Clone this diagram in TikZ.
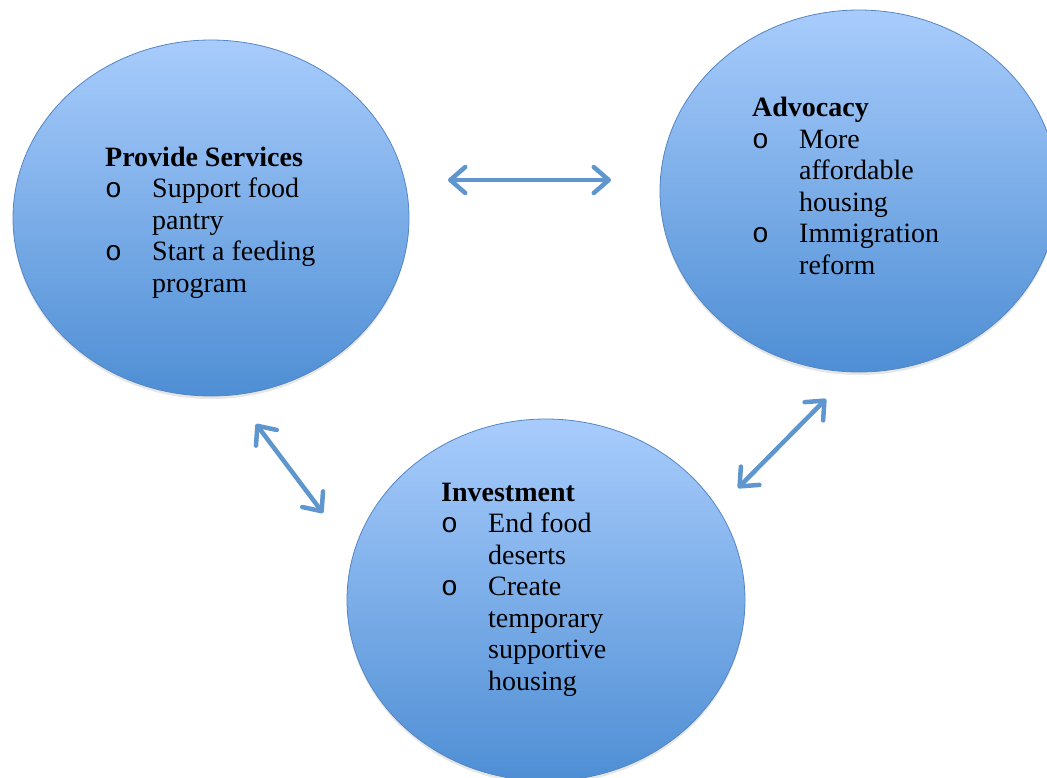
\documentclass[tikz,border=0pt]{standalone}
\usepackage{fontspec}
\setmainfont{Liberation Serif}
\newfontfamily\bulfont{Liberation Mono}
\usetikzlibrary{shapes.geometric,arrows.meta,shadows}

\definecolor{bubbletop}{RGB}{168,204,252}
\definecolor{bubblebot}{RGB}{78,142,212}
\definecolor{bubbleline}{RGB}{84,134,196}
\definecolor{linkblue}{RGB}{96,150,206}

\newcommand{\bul}{\makebox[47pt][l]{\bulfont o}}
\newcommand{\ind}{\hspace*{47pt}}

\begin{document}
\begin{tikzpicture}[x=1pt,y=-1pt,
  bubble/.style={ellipse,draw=bubbleline,line width=0.8pt,top color=bubbletop,bottom color=bubblebot,
    inner sep=0pt,drop shadow={shadow xshift=0pt,shadow yshift=-3pt,opacity=0.2}},
  label text/.style={font=\fontsize{28}{31.5}\selectfont,align=left,inner sep=0pt,anchor=base west},
  link/.style={line width=4.5pt,draw=linkblue,
    {Straight Barb[length=15pt,width=26pt,round]}-{Straight Barb[length=15pt,width=26pt,round]}}]

  \useasboundingbox (0,0) rectangle (1047,777);

  % the three circles
  \node[bubble,minimum width=396pt,minimum height=356pt] (serv) at (211,218) {};
  \node[bubble,minimum width=398pt,minimum height=362pt] (adv) at (859,191) {};
  \node[bubble,minimum width=398pt,minimum height=362pt] (inv) at (546,600) {};

  % texts, placed at the baseline of their last line
  \node[label text] (servtxt) at (105,292) {\textbf{Provide Services}\\
    \bul Support food\\ \ind pantry\\
    \bul Start a feeding\\ \ind program};
  \node[label text] (advtxt) at (752,274) {\textbf{Advocacy}\\
    \bul More\\ \ind affordable\\ \ind housing\\
    \bul Immigration\\ \ind reform};
  \node[label text] (invtxt) at (441,690) {\textbf{Investment}\\
    \bul End food\\ \ind deserts\\
    \bul Create\\ \ind temporary\\ \ind supportive\\ \ind housing};

  % arrows between them
  \coordinate (sa) at (448,180);
  \coordinate (as) at (611,180);
  \coordinate (si) at (256,424);
  \coordinate (is) at (323,513);
  \coordinate (ai) at (826,399);
  \coordinate (ia) at (738,488);

  \draw[link] (sa) -- (as);
  \draw[link] (si) -- (is);
  \draw[link] (ai) -- (ia);
\end{tikzpicture}
\end{document}
